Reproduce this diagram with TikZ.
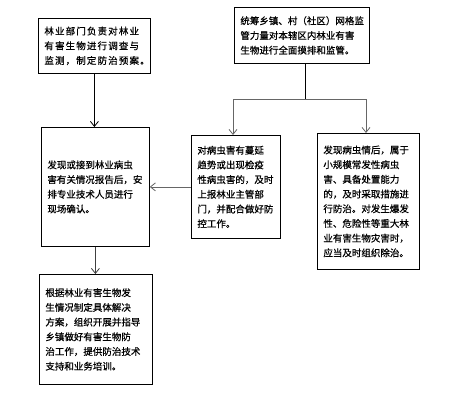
\documentclass[tikz,border=0pt]{standalone}
\usepackage{fontspec}
\newfontfamily\cjk[FakeBold=0.6]{Noto Sans CJK SC}
\newfontfamily\cjkwide[FakeBold=0.6,LetterSpace=12]{Noto Sans CJK SC}
\usetikzlibrary{arrows.meta}
\begin{document}
\begin{tikzpicture}[x=1pt,y=-1pt,
  box/.style={draw, line width=0.8pt, anchor=north west, align=left,
    inner xsep=6pt, inner ysep=2pt,
    font=\cjk\fontsize{9.5}{14.7}\selectfont},
  arr/.style={-{Straight Barb[length=5pt,width=8pt]}, line width=0.8pt},
  grayline/.style={draw=black!60, line width=1pt}]
\useasboundingbox (0,0) rectangle (463,408);
\fill[white] (0,0) rectangle (463,408);

\node[box, text width=100pt, minimum height=55pt,
  font=\cjkwide\fontsize{9.5}{14.7}\selectfont] (b1) at (38,18)
  {林业部门负责对林业\\有害生物进行调查与\\监测，制定防治预案。};
\node[box, text width=123pt, minimum height=56pt] (b2) at (234,7)
  {统筹乡镇、村（社区）网格监\\管力量对本辖区内林业有害\\生物进行全面摸排和监管。};
\node[box, text width=96pt, minimum height=119pt] (b3) at (41,127)
  {发现或接到林业病虫\\害有关情况报告后，安\\排专业技术人员进行\\现场确认。};
\node[box, text width=101pt, minimum height=110pt] (b4) at (39,274)
  {根据林业有害生物发\\生情况制定具体解决\\方案，组织开展并指导\\乡镇做好有害生物防\\治工作，提供防治技术\\支持和业务培训。};
\node[box, text width=77pt, minimum height=103pt] (b5) at (191,135)
  {对病虫害有蔓延\\趋势或出现检疫\\性病虫害的，及时\\上报林业主管部\\门，并配合做好防\\控工作。};
\node[box, text width=90pt, minimum height=136pt] (b6) at (317,133)
  {发现病虫情后，属于\\小规模常发性病虫\\害、具备处置能力\\的，及时采取措施进\\行防治。对发生爆发\\性、危险性等重大林\\业有害生物灾害时，\\应当及时组织除治。};

\coordinate (j) at (305,99);
\coordinate (l) at (233,99);
\coordinate (r) at (366,99);

\draw[arr] (b1.south) -- (b1.south |- b3.north);
\draw[line width=0.8pt] (b2.south -| j) -- (j);
\draw[grayline] (l) -- (r);
\draw[arr, draw=black!60] (l) -- (l |- b5.north);
\draw[arr, draw=black!60] (r) -- (r |- b6.north);
\draw[arr, draw=black!60] (b5.west) -- (b5.west -| b3.east);
\draw[arr, draw=black!75] (b3.south) -- (b3.south |- b4.north);
\end{tikzpicture}
\end{document}
